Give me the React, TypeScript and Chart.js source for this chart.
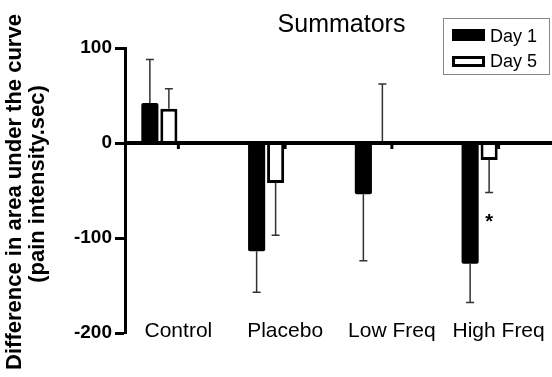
import { useEffect, useRef } from 'react';
import { Chart, registerables } from 'chart.js';

Chart.register(...registerables);

const categories = ['Control', 'Placebo', 'Low Freq', 'High Freq'];
const seriesNames = ['Day 1', 'Day 5'];
const day1Values = [42, -114, -54, -127];
const day1Errors = [46, 43, 70, 41];
const day5Values = [36, -42, 2, -18];
const day5Errors = [21, 55, 60, 34];
const day5Marks = ['', '', '', '*'];
const day5MarkValues = [0, 0, 0, -79];
const yMin = -200;
const yMax = 100;
const yStep = 100;
const chartTitle = 'Summators';
const yTitleLines = ['Difference in area under the curve', '(pain intensity.sec)'];

const FONT = 'Arial, "Liberation Sans", Helvetica, sans-serif';

const errorValues = [day1Errors, day5Errors];

const customPlugin = {
  id: 'custom',
  afterDatasetsDraw(chart: any) {
    const { ctx, chartArea, scales } = chart;
    const y = scales.y;
    const x = scales.x;
    ctx.save();
    // error bars
    [0, 1].forEach((di) => {
      const meta = chart.getDatasetMeta(di);
      const vals = chart.data.datasets[di].data as number[];
      meta.data.forEach((el: any, i: number) => {
        const v = vals[i];
        const e = errorValues[di][i];
        const end = v >= 0 ? v + e : v - e;
        const yEnd = y.getPixelForValue(end);
        ctx.strokeStyle = '#333';
        ctx.lineWidth = 1.5;
        ctx.beginPath();
        ctx.moveTo(el.x, el.y);
        ctx.lineTo(el.x, yEnd);
        ctx.moveTo(el.x - 4, yEnd);
        ctx.lineTo(el.x + 4, yEnd);
        ctx.stroke();
      });
    });
    // zero line
    const y0 = y.getPixelForValue(0);
    ctx.strokeStyle = '#000';
    ctx.lineWidth = 4;
    ctx.beginPath();
    ctx.moveTo(chartArea.left, y0);
    ctx.lineTo(chartArea.right, y0);
    ctx.stroke();
    // category ticks
    ctx.lineWidth = 3;
    categories.forEach((_, i) => {
      const px = x.getPixelForTick(i);
      ctx.beginPath();
      ctx.moveTo(px, y0);
      ctx.lineTo(px, y0 + 6);
      ctx.stroke();
    });
    // significance marks
    const meta5 = chart.getDatasetMeta(1);
    ctx.fillStyle = '#000';
    ctx.font = `bold 20px ${FONT}`;
    ctx.textAlign = 'center';
    ctx.textBaseline = 'middle';
    day5Marks.forEach((m, i) => {
      if (!m) return;
      const el: any = meta5.data[i];
      ctx.fillText(m, el.x, y.getPixelForValue(day5MarkValues[i]) + 4);
    });
    ctx.restore();
  },
  afterDraw(chart: any) {
    const { ctx, chartArea, scales } = chart;
    ctx.save();
    // category labels
    ctx.fillStyle = '#000';
    ctx.font = `21px ${FONT}`;
    ctx.textAlign = 'center';
    ctx.textBaseline = 'alphabetic';
    categories.forEach((c, i) => {
      ctx.fillText(c, scales.x.getPixelForTick(i), chartArea.bottom + 4);
    });
    // title
    ctx.font = `25px ${FONT}`;
    ctx.fillText(chartTitle, (chartArea.left + chartArea.right) / 2 + 3, 32);
    // legend
    ctx.strokeStyle = '#888';
    ctx.lineWidth = 1;
    ctx.strokeRect(443.5, 18.5, 106, 56);
    ctx.fillStyle = '#000';
    ctx.fillRect(452, 29, 33, 12);
    ctx.fillStyle = '#fff';
    ctx.fillRect(452, 56, 33, 11);
    ctx.strokeStyle = '#000';
    ctx.lineWidth = 3;
    ctx.strokeRect(453.5, 57.5, 30, 8);
    ctx.fillStyle = '#000';
    ctx.font = `18px ${FONT}`;
    ctx.textAlign = 'left';
    ctx.fillText(seriesNames[0], 490, 42);
    ctx.fillText(seriesNames[1], 490, 67);
    // y title
    ctx.rotate(-Math.PI / 2);
    ctx.font = `bold 22px ${FONT}`;
    ctx.textAlign = 'center';
    ctx.textBaseline = 'alphabetic';
    const cy = 192;
    ctx.fillText(yTitleLines[0], -cy, 21);
    ctx.fillText(yTitleLines[1], -cy + 8, 44);
    ctx.restore();
  },
};

export default function App() {
  const ref = useRef<HTMLCanvasElement>(null);
  useEffect(() => {
    document.body.style.margin = '0';
    const canvas = ref.current!;
    const nulls = categories.map(() => null);
    const chart = new Chart(canvas, {
      type: 'bar',
      data: {
        labels: categories,
        datasets: [
          {
            label: seriesNames[0],
            data: day1Values,
            backgroundColor: '#000',
            borderWidth: 0,
            borderRadius: 2,
            barPercentage: 0.9,
            categoryPercentage: 0.712,
          },
          {
            label: seriesNames[1],
            data: day5Values,
            backgroundColor: '#fff',
            borderColor: '#000',
            borderWidth: 3,
            borderSkipped: 'start',
            barPercentage: 0.9,
            categoryPercentage: 0.712,
          },
          { label: '', data: nulls as any, barPercentage: 0.9, categoryPercentage: 0.712 },
          { label: '', data: nulls as any, barPercentage: 0.9, categoryPercentage: 0.712 },
        ],
      },
      options: {
        responsive: false,
        animation: false,
        layout: { padding: { top: 48, left: 0, right: 0, bottom: 0 } },
        plugins: {
          legend: { display: false },
          title: { display: false },
          tooltip: { enabled: false },
        },
        scales: {
          x: {
            grid: { display: false, drawTicks: false },
            border: { display: false },
            ticks: { display: false },
            afterFit(scale: any) {
              scale.height = 44;
            },
          },
          y: {
            min: yMin,
            max: yMax,
            ticks: {
              stepSize: yStep,
              color: '#000',
              font: { family: FONT, size: 19, weight: 'bold' },
              padding: 3,
            },
            grid: {
              drawOnChartArea: false,
              drawTicks: true,
              tickLength: 10,
              tickColor: '#000',
              tickWidth: 3,
            },
            border: { display: true, color: '#000', width: 3 },
            afterFit(scale: any) {
              scale.width = 125;
            },
          },
        },
      },
      plugins: [customPlugin],
    });
    return () => chart.destroy();
  }, []);
  return <canvas ref={ref} width={552} height={377} style={{ display: 'block' }} />;
}
